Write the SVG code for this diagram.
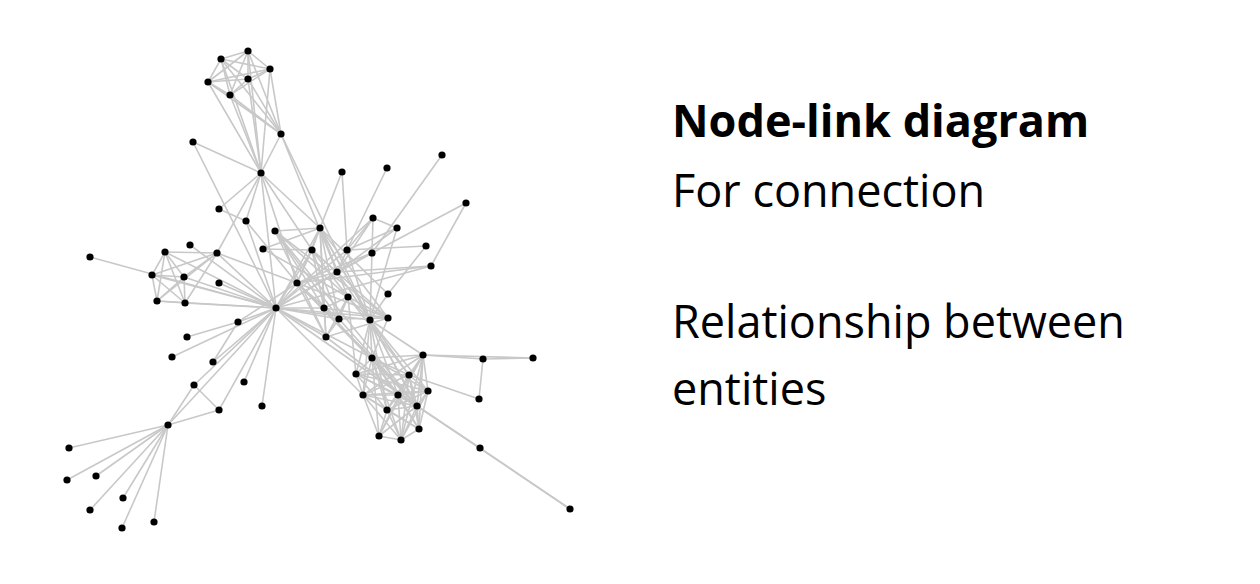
<svg xmlns="http://www.w3.org/2000/svg" width="1260" height="584" viewBox="0 0 1260 584">
<style>
.e line{stroke:#c8c8c8;stroke-width:1.6;fill:none}
.n circle{fill:#000}
.t{font-family:"Open Sans","Liberation Sans",sans-serif;font-size:45px;fill:#000}
.b{font-weight:bold}
</style>
<rect width="1260" height="584" fill="#fff"/>
<g id="connectors" class="e">
<line x1="69" y1="448" x2="168" y2="425"/><line x1="194" y1="385" x2="168" y2="425"/><line x1="219" y1="410" x2="168" y2="425"/><line x1="219" y1="410" x2="194" y2="385"/><line x1="67" y1="480" x2="168" y2="425"/><line x1="96" y1="476" x2="168" y2="425"/><line x1="123" y1="498" x2="168" y2="425"/><line x1="90" y1="510" x2="168" y2="425"/><line x1="154" y1="522" x2="168" y2="425"/><line x1="122" y1="528" x2="168" y2="425"/>
<line x1="276" y1="308" x2="90" y2="257"/><line x1="276" y1="308" x2="219" y2="410"/><line x1="276" y1="308" x2="194" y2="385"/><line x1="276" y1="308" x2="168" y2="425"/><line x1="193" y1="142" x2="276" y2="308"/><line x1="172" y1="357" x2="276" y2="308"/><line x1="244" y1="382" x2="276" y2="308"/><line x1="262" y1="406" x2="276" y2="308"/>
<line x1="248" y1="51" x2="281" y2="134"/><line x1="221" y1="59" x2="281" y2="134"/><line x1="221" y1="59" x2="248" y2="51"/><line x1="270" y1="69" x2="281" y2="134"/><line x1="270" y1="69" x2="248" y2="51"/><line x1="270" y1="69" x2="221" y2="59"/><line x1="208" y1="82" x2="281" y2="134"/><line x1="208" y1="82" x2="248" y2="51"/><line x1="208" y1="82" x2="221" y2="59"/><line x1="208" y1="82" x2="270" y2="69"/><line x1="248" y1="79" x2="281" y2="134"/><line x1="248" y1="79" x2="248" y2="51"/><line x1="248" y1="79" x2="221" y2="59"/><line x1="248" y1="79" x2="270" y2="69"/><line x1="248" y1="79" x2="208" y2="82"/><line x1="230" y1="95" x2="281" y2="134"/><line x1="230" y1="95" x2="248" y2="51"/><line x1="230" y1="95" x2="221" y2="59"/><line x1="230" y1="95" x2="270" y2="69"/><line x1="230" y1="95" x2="208" y2="82"/><line x1="230" y1="95" x2="248" y2="79"/>
<line x1="261" y1="173" x2="281" y2="134"/><line x1="261" y1="173" x2="248" y2="51"/><line x1="261" y1="173" x2="221" y2="59"/><line x1="261" y1="173" x2="270" y2="69"/><line x1="261" y1="173" x2="208" y2="82"/><line x1="261" y1="173" x2="248" y2="79"/><line x1="261" y1="173" x2="230" y2="95"/><line x1="261" y1="173" x2="193" y2="142"/><line x1="261" y1="173" x2="276" y2="308"/>
<line x1="312" y1="250" x2="261" y2="173"/><line x1="312" y1="250" x2="276" y2="308"/><line x1="320" y1="228" x2="312" y2="250"/><line x1="320" y1="228" x2="261" y2="173"/><line x1="320" y1="228" x2="276" y2="308"/><line x1="337" y1="272" x2="312" y2="250"/><line x1="337" y1="272" x2="276" y2="308"/><line x1="337" y1="272" x2="281" y2="134"/><line x1="337" y1="272" x2="320" y2="228"/>
<line x1="297" y1="283" x2="276" y2="308"/><line x1="297" y1="283" x2="261" y2="173"/><line x1="297" y1="283" x2="320" y2="228"/><line x1="297" y1="283" x2="312" y2="250"/><line x1="297" y1="283" x2="337" y2="272"/><line x1="238" y1="322" x2="276" y2="308"/><line x1="238" y1="322" x2="297" y2="283"/><line x1="217" y1="253" x2="261" y2="173"/><line x1="217" y1="253" x2="297" y2="283"/><line x1="217" y1="253" x2="276" y2="308"/><line x1="219" y1="209" x2="261" y2="173"/><line x1="246" y1="221" x2="219" y2="209"/><line x1="246" y1="221" x2="276" y2="308"/><line x1="246" y1="221" x2="261" y2="173"/><line x1="246" y1="221" x2="297" y2="283"/><line x1="190" y1="245" x2="276" y2="308"/><line x1="219" y1="283" x2="276" y2="308"/>
<line x1="165" y1="252" x2="276" y2="308"/><line x1="165" y1="252" x2="217" y2="253"/><line x1="152" y1="275" x2="276" y2="308"/><line x1="152" y1="275" x2="165" y2="252"/><line x1="152" y1="275" x2="217" y2="253"/><line x1="184" y1="277" x2="165" y2="252"/><line x1="184" y1="277" x2="152" y2="275"/><line x1="184" y1="277" x2="276" y2="308"/><line x1="184" y1="277" x2="217" y2="253"/><line x1="157" y1="301" x2="165" y2="252"/><line x1="157" y1="301" x2="152" y2="275"/><line x1="157" y1="301" x2="184" y2="277"/><line x1="157" y1="301" x2="276" y2="308"/><line x1="157" y1="301" x2="217" y2="253"/><line x1="185" y1="303" x2="165" y2="252"/><line x1="185" y1="303" x2="152" y2="275"/><line x1="185" y1="303" x2="184" y2="277"/><line x1="185" y1="303" x2="157" y2="301"/><line x1="185" y1="303" x2="276" y2="308"/><line x1="185" y1="303" x2="217" y2="253"/>
<line x1="388" y1="294" x2="320" y2="228"/><line x1="442" y1="155" x2="372" y2="253"/><line x1="348" y1="297" x2="312" y2="250"/><line x1="348" y1="297" x2="320" y2="228"/><line x1="263" y1="249" x2="348" y2="297"/><line x1="263" y1="249" x2="320" y2="228"/><line x1="263" y1="249" x2="312" y2="250"/><line x1="372" y1="253" x2="276" y2="308"/><line x1="372" y1="253" x2="337" y2="272"/><line x1="372" y1="253" x2="297" y2="283"/><line x1="213" y1="362" x2="238" y2="322"/><line x1="213" y1="362" x2="276" y2="308"/><line x1="187" y1="337" x2="238" y2="322"/>
<line x1="483" y1="359" x2="533" y2="358"/><line x1="423" y1="355" x2="483" y2="359"/><line x1="423" y1="355" x2="533" y2="358"/><line x1="479" y1="399" x2="409" y2="375"/><line x1="479" y1="399" x2="483" y2="359"/>
<line x1="417" y1="406" x2="320" y2="228"/><line x1="417" y1="406" x2="297" y2="283"/><line x1="417" y1="406" x2="276" y2="308"/><line x1="373" y1="218" x2="337" y2="272"/><line x1="373" y1="218" x2="276" y2="308"/><line x1="466" y1="203" x2="372" y2="253"/><line x1="466" y1="203" x2="431" y2="266"/><line x1="347" y1="250" x2="373" y2="218"/><line x1="347" y1="250" x2="337" y2="272"/><line x1="347" y1="250" x2="276" y2="308"/><line x1="426" y1="246" x2="347" y2="250"/><line x1="426" y1="246" x2="388" y2="294"/><line x1="387" y1="168" x2="347" y2="250"/><line x1="397" y1="228" x2="347" y2="250"/><line x1="397" y1="228" x2="373" y2="218"/><line x1="397" y1="228" x2="337" y2="272"/>
<line x1="370" y1="320" x2="347" y2="250"/><line x1="370" y1="320" x2="373" y2="218"/><line x1="370" y1="320" x2="388" y2="294"/><line x1="370" y1="320" x2="397" y2="228"/><line x1="370" y1="320" x2="337" y2="272"/><line x1="370" y1="320" x2="276" y2="308"/><line x1="370" y1="320" x2="281" y2="134"/><line x1="370" y1="320" x2="320" y2="228"/><line x1="370" y1="320" x2="348" y2="297"/><line x1="370" y1="320" x2="417" y2="406"/><line x1="342" y1="172" x2="320" y2="228"/><line x1="342" y1="172" x2="347" y2="250"/>
<line x1="356" y1="374" x2="370" y2="320"/><line x1="356" y1="374" x2="348" y2="297"/><line x1="356" y1="374" x2="417" y2="406"/><line x1="372" y1="358" x2="370" y2="320"/><line x1="372" y1="358" x2="417" y2="406"/><line x1="372" y1="358" x2="297" y2="283"/><line x1="372" y1="358" x2="356" y2="374"/><line x1="372" y1="358" x2="276" y2="308"/>
<line x1="398" y1="395" x2="372" y2="358"/><line x1="398" y1="395" x2="370" y2="320"/><line x1="398" y1="395" x2="417" y2="406"/><line x1="398" y1="395" x2="356" y2="374"/><line x1="419" y1="429" x2="417" y2="406"/><line x1="419" y1="429" x2="372" y2="358"/><line x1="419" y1="429" x2="398" y2="395"/><line x1="428" y1="391" x2="417" y2="406"/><line x1="428" y1="391" x2="372" y2="358"/><line x1="428" y1="391" x2="419" y2="429"/><line x1="428" y1="391" x2="398" y2="395"/><line x1="428" y1="391" x2="356" y2="374"/><line x1="428" y1="391" x2="370" y2="320"/>
<line x1="409" y1="375" x2="370" y2="320"/><line x1="409" y1="375" x2="372" y2="358"/><line x1="409" y1="375" x2="398" y2="395"/><line x1="409" y1="375" x2="417" y2="406"/><line x1="409" y1="375" x2="356" y2="374"/><line x1="409" y1="375" x2="348" y2="297"/><line x1="409" y1="375" x2="428" y2="391"/><line x1="409" y1="375" x2="419" y2="429"/>
<line x1="387" y1="410" x2="398" y2="395"/><line x1="387" y1="410" x2="417" y2="406"/><line x1="387" y1="410" x2="409" y2="375"/><line x1="387" y1="410" x2="356" y2="374"/><line x1="387" y1="410" x2="372" y2="358"/><line x1="387" y1="410" x2="428" y2="391"/><line x1="387" y1="410" x2="419" y2="429"/><line x1="387" y1="410" x2="370" y2="320"/>
<line x1="363" y1="395" x2="370" y2="320"/><line x1="363" y1="395" x2="409" y2="375"/><line x1="363" y1="395" x2="417" y2="406"/><line x1="363" y1="395" x2="387" y2="410"/><line x1="363" y1="395" x2="372" y2="358"/><line x1="363" y1="395" x2="428" y2="391"/><line x1="363" y1="395" x2="419" y2="429"/><line x1="363" y1="395" x2="398" y2="395"/><line x1="363" y1="395" x2="356" y2="374"/><line x1="363" y1="395" x2="276" y2="308"/>
<line x1="423" y1="355" x2="387" y2="410"/><line x1="423" y1="355" x2="363" y2="395"/><line x1="423" y1="355" x2="417" y2="406"/><line x1="423" y1="355" x2="409" y2="375"/><line x1="423" y1="355" x2="372" y2="358"/><line x1="423" y1="355" x2="428" y2="391"/><line x1="423" y1="355" x2="419" y2="429"/><line x1="423" y1="355" x2="398" y2="395"/><line x1="423" y1="355" x2="356" y2="374"/><line x1="423" y1="355" x2="370" y2="320"/>
<line x1="401" y1="440" x2="363" y2="395"/><line x1="401" y1="440" x2="372" y2="358"/><line x1="401" y1="440" x2="398" y2="395"/><line x1="401" y1="440" x2="409" y2="375"/><line x1="401" y1="440" x2="423" y2="355"/><line x1="401" y1="440" x2="417" y2="406"/><line x1="401" y1="440" x2="387" y2="410"/><line x1="401" y1="440" x2="428" y2="391"/><line x1="401" y1="440" x2="419" y2="429"/>
<line x1="324" y1="308" x2="320" y2="228"/><line x1="324" y1="308" x2="276" y2="308"/><line x1="324" y1="308" x2="312" y2="250"/><line x1="324" y1="308" x2="297" y2="283"/><line x1="324" y1="308" x2="417" y2="406"/><line x1="324" y1="308" x2="348" y2="297"/>
<line x1="339" y1="319" x2="320" y2="228"/><line x1="339" y1="319" x2="324" y2="308"/><line x1="339" y1="319" x2="276" y2="308"/><line x1="339" y1="319" x2="312" y2="250"/><line x1="339" y1="319" x2="297" y2="283"/><line x1="339" y1="319" x2="417" y2="406"/><line x1="339" y1="319" x2="348" y2="297"/>
<line x1="388" y1="318" x2="320" y2="228"/><line x1="388" y1="318" x2="324" y2="308"/><line x1="388" y1="318" x2="276" y2="308"/><line x1="388" y1="318" x2="312" y2="250"/><line x1="388" y1="318" x2="297" y2="283"/><line x1="388" y1="318" x2="348" y2="297"/><line x1="388" y1="318" x2="372" y2="358"/><line x1="388" y1="318" x2="339" y2="319"/>
<line x1="326" y1="337" x2="297" y2="283"/><line x1="326" y1="337" x2="339" y2="319"/><line x1="326" y1="337" x2="324" y2="308"/><line x1="326" y1="337" x2="388" y2="318"/><line x1="326" y1="337" x2="276" y2="308"/><line x1="326" y1="337" x2="417" y2="406"/><line x1="326" y1="337" x2="348" y2="297"/><line x1="326" y1="337" x2="320" y2="228"/>
<line x1="431" y1="266" x2="337" y2="272"/><line x1="431" y1="266" x2="297" y2="283"/><line x1="431" y1="266" x2="276" y2="308"/><line x1="480" y1="448" x2="417" y2="406"/><line x1="570" y1="509" x2="417" y2="406"/><line x1="570" y1="509" x2="480" y2="448"/>
<line x1="275" y1="231" x2="339" y2="319"/><line x1="275" y1="231" x2="324" y2="308"/><line x1="275" y1="231" x2="320" y2="228"/><line x1="275" y1="231" x2="417" y2="406"/><line x1="275" y1="231" x2="348" y2="297"/><line x1="275" y1="231" x2="388" y2="318"/><line x1="275" y1="231" x2="326" y2="337"/>
<line x1="379" y1="436" x2="363" y2="395"/><line x1="379" y1="436" x2="423" y2="355"/><line x1="379" y1="436" x2="401" y2="440"/><line x1="379" y1="436" x2="387" y2="410"/><line x1="379" y1="436" x2="409" y2="375"/><line x1="379" y1="436" x2="417" y2="406"/><line x1="379" y1="436" x2="372" y2="358"/>
</g>
<g id="nodes" class="n">
<g id="n0"><circle cx="168" cy="425" r="3.6"/></g><g id="n1"><circle cx="69" cy="448" r="3.6"/></g><g id="n2"><circle cx="194" cy="385" r="3.6"/></g><g id="n3"><circle cx="219" cy="410" r="3.6"/></g><g id="n4"><circle cx="67" cy="480" r="3.6"/></g><g id="n5"><circle cx="96" cy="476" r="3.6"/></g><g id="n6"><circle cx="123" cy="498" r="3.6"/></g><g id="n7"><circle cx="90" cy="510" r="3.6"/></g><g id="n8"><circle cx="154" cy="522" r="3.6"/></g><g id="n9"><circle cx="122" cy="528" r="3.6"/></g>
<g id="n10"><circle cx="90" cy="257" r="3.6"/></g><g id="n11"><circle cx="276" cy="308" r="3.6"/></g><g id="n12"><circle cx="193" cy="142" r="3.6"/></g><g id="n13"><circle cx="172" cy="357" r="3.6"/></g><g id="n14"><circle cx="244" cy="382" r="3.6"/></g><g id="n15"><circle cx="262" cy="406" r="3.6"/></g><g id="n16"><circle cx="281" cy="134" r="3.6"/></g><g id="n17"><circle cx="248" cy="51" r="3.6"/></g><g id="n18"><circle cx="221" cy="59" r="3.6"/></g><g id="n19"><circle cx="270" cy="69" r="3.6"/></g>
<g id="n20"><circle cx="208" cy="82" r="3.6"/></g><g id="n21"><circle cx="248" cy="79" r="3.6"/></g><g id="n22"><circle cx="230" cy="95" r="3.6"/></g><g id="n23"><circle cx="261" cy="173" r="3.6"/></g><g id="n24"><circle cx="312" cy="250" r="3.6"/></g><g id="n25"><circle cx="320" cy="228" r="3.6"/></g><g id="n26"><circle cx="337" cy="272" r="3.6"/></g><g id="n27"><circle cx="297" cy="283" r="3.6"/></g><g id="n28"><circle cx="238" cy="322" r="3.6"/></g><g id="n29"><circle cx="217" cy="253" r="3.6"/></g>
<g id="n30"><circle cx="219" cy="209" r="3.6"/></g><g id="n31"><circle cx="246" cy="221" r="3.6"/></g><g id="n32"><circle cx="190" cy="245" r="3.6"/></g><g id="n33"><circle cx="219" cy="283" r="3.6"/></g><g id="n34"><circle cx="165" cy="252" r="3.6"/></g><g id="n35"><circle cx="152" cy="275" r="3.6"/></g><g id="n36"><circle cx="184" cy="277" r="3.6"/></g><g id="n37"><circle cx="157" cy="301" r="3.6"/></g><g id="n38"><circle cx="185" cy="303" r="3.6"/></g><g id="n39"><circle cx="388" cy="294" r="3.6"/></g>
<g id="n40"><circle cx="442" cy="155" r="3.6"/></g><g id="n41"><circle cx="348" cy="297" r="3.6"/></g><g id="n42"><circle cx="263" cy="249" r="3.6"/></g><g id="n43"><circle cx="372" cy="253" r="3.6"/></g><g id="n44"><circle cx="213" cy="362" r="3.6"/></g><g id="n45"><circle cx="187" cy="337" r="3.6"/></g><g id="n46"><circle cx="533" cy="358" r="3.6"/></g><g id="n47"><circle cx="483" cy="359" r="3.6"/></g><g id="n48"><circle cx="417" cy="406" r="3.6"/></g><g id="n49"><circle cx="373" cy="218" r="3.6"/></g>
<g id="n50"><circle cx="466" cy="203" r="3.6"/></g><g id="n51"><circle cx="347" cy="250" r="3.6"/></g><g id="n52"><circle cx="426" cy="246" r="3.6"/></g><g id="n53"><circle cx="387" cy="168" r="3.6"/></g><g id="n54"><circle cx="397" cy="228" r="3.6"/></g><g id="n55"><circle cx="370" cy="320" r="3.6"/></g><g id="n56"><circle cx="342" cy="172" r="3.6"/></g><g id="n57"><circle cx="356" cy="374" r="3.6"/></g><g id="n58"><circle cx="372" cy="358" r="3.6"/></g><g id="n59"><circle cx="398" cy="395" r="3.6"/></g>
<g id="n60"><circle cx="419" cy="429" r="3.6"/></g><g id="n61"><circle cx="428" cy="391" r="3.6"/></g><g id="n62"><circle cx="409" cy="375" r="3.6"/></g><g id="n63"><circle cx="387" cy="410" r="3.6"/></g><g id="n64"><circle cx="363" cy="395" r="3.6"/></g><g id="n65"><circle cx="423" cy="355" r="3.6"/></g><g id="n66"><circle cx="401" cy="440" r="3.6"/></g><g id="n67"><circle cx="479" cy="399" r="3.6"/></g><g id="n68"><circle cx="324" cy="308" r="3.6"/></g><g id="n69"><circle cx="339" cy="319" r="3.6"/></g>
<g id="n70"><circle cx="388" cy="318" r="3.6"/></g><g id="n71"><circle cx="326" cy="337" r="3.6"/></g><g id="n72"><circle cx="431" cy="266" r="3.6"/></g><g id="n73"><circle cx="480" cy="448" r="3.6"/></g><g id="n74"><circle cx="570" cy="509" r="3.6"/></g><g id="n75"><circle cx="275" cy="231" r="3.6"/></g><g id="n76"><circle cx="379" cy="436" r="3.6"/></g>
</g>
<g id="caption">
<text class="t b" x="672" y="137">Node-link diagram</text>
<text class="t" x="672" y="207">For connection</text>
<text class="t" x="672" y="338">Relationship between</text>
<text class="t" x="672" y="405">entities</text>
</g>
</svg>
